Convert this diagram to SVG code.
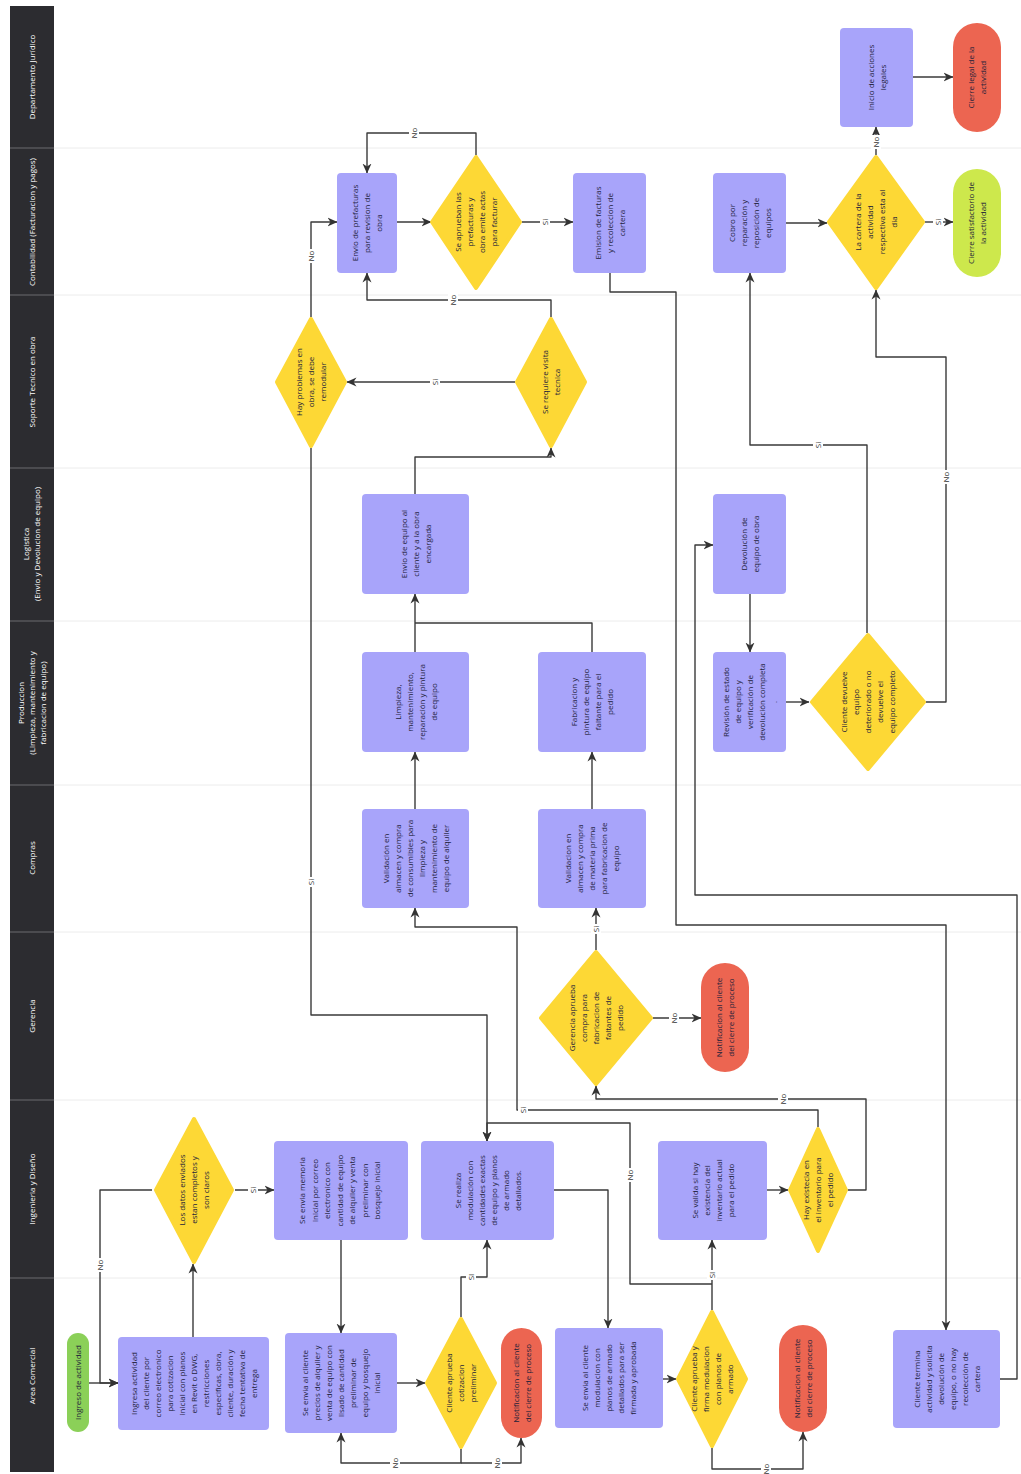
<svg xmlns="http://www.w3.org/2000/svg" width="1021" height="1474" viewBox="0 0 1021 1474">
<style>
.sep{stroke:#ececec;stroke-width:1}
.lsep{stroke:#6a6a6e;stroke-width:1}
.box{fill:#a8a4fa}
.dia{fill:#fdd835;stroke:#fdd835;stroke-width:4;stroke-linejoin:round}
.red{fill:#ec6551}
.grn{fill:#8bd058}
.lime{fill:#cde84c}
text{font-family:"Open Sans","Noto Sans",sans-serif;font-size:8px;text-anchor:middle}
.t{fill:#22223a}
.lt{fill:#ffffff}
.c{fill:none;stroke:#3a3a3a;stroke-width:1.4;stroke-linejoin:round}
.a{marker-end:url(#ah)}
.lb rect{fill:#ffffff}
.lb text{fill:#333}
</style>
<defs>
<marker id="ah" viewBox="0 0 10 10" refX="9.5" refY="5" markerWidth="10" markerHeight="10" markerUnits="userSpaceOnUse" orient="auto"><path d="M0,0.5 L10,5 L0,9.5 L3,5 z" fill="#333"/></marker>
</defs>
<rect x="0" y="0" width="1021" height="1474" fill="#ffffff"/>
<g id="lanes">
<rect x="10" y="6" width="44" height="1466" fill="#2c2c30"/>
<line class="sep" x1="54" y1="148" x2="1021" y2="148"/>
<line class="sep" x1="54" y1="295" x2="1021" y2="295"/>
<line class="sep" x1="54" y1="468" x2="1021" y2="468"/>
<line class="sep" x1="54" y1="621" x2="1021" y2="621"/>
<line class="sep" x1="54" y1="785" x2="1021" y2="785"/>
<line class="sep" x1="54" y1="932" x2="1021" y2="932"/>
<line class="sep" x1="54" y1="1100" x2="1021" y2="1100"/>
<line class="sep" x1="54" y1="1278" x2="1021" y2="1278"/>
<line class="lsep" x1="10" y1="148" x2="54" y2="148"/>
<line class="lsep" x1="10" y1="295" x2="54" y2="295"/>
<line class="lsep" x1="10" y1="468" x2="54" y2="468"/>
<line class="lsep" x1="10" y1="621" x2="54" y2="621"/>
<line class="lsep" x1="10" y1="785" x2="54" y2="785"/>
<line class="lsep" x1="10" y1="932" x2="54" y2="932"/>
<line class="lsep" x1="10" y1="1100" x2="54" y2="1100"/>
<line class="lsep" x1="10" y1="1278" x2="54" y2="1278"/>
<text class="lt" transform="translate(32,77) rotate(-90)" y="3">Departamento Jurídico</text>
<text class="lt" transform="translate(32,222) rotate(-90)" y="3">Contabilidad (Facturacion y pagos)</text>
<text class="lt" transform="translate(32,382) rotate(-90)" y="3">Soporte Tecnico en obra</text>
<text class="lt" transform="translate(32,544) rotate(-90)"><tspan x="0" y="-3">Logistica</tspan><tspan x="0" y="8">(Envio y Devolucion de equipo)</tspan></text>
<text class="lt" transform="translate(32,703) rotate(-90)"><tspan x="0" y="-8">Produccion</tspan><tspan x="0" y="3">(Limpieza, mantenimiento y</tspan><tspan x="0" y="14">fabricacion de equipo)</tspan></text>
<text class="lt" transform="translate(32,858) rotate(-90)" y="3">Compras</text>
<text class="lt" transform="translate(32,1016) rotate(-90)" y="3">Gerencia</text>
<text class="lt" transform="translate(32,1189) rotate(-90)" y="3">Ingenieria y Diseño</text>
<text class="lt" transform="translate(32,1376) rotate(-90)" y="3">Area Comercial</text>
</g>
<g id="connectors">
<path class="c a" d="M89,1383 H118"/>
<path class="c a" d="M152,1190 H100 V1383 H118"/>
<path class="c a" d="M193,1337 V1264"/>
<path class="c a" d="M235,1190 H274"/>
<path class="c a" d="M341,1240 V1333"/>
<path class="c a" d="M397,1383 H425"/>
<path class="c a" d="M461,1449 V1463 H341 V1433"/>
<path class="c a" d="M461,1463 H521 V1438"/>
<path class="c a" d="M461,1317 V1277 H487 V1240"/>
<path class="c a" d="M554,1190 H608 V1328"/>
<path class="c a" d="M663,1379 H676"/>
<path class="c a" d="M712,1448 V1469 H803 V1432"/>
<path class="c a" d="M712,1310 V1240"/>
<path class="c a" d="M712,1284 H630 V1123 H487 V1141"/>
<path class="c a" d="M767,1190 H788"/>
<path class="c a" d="M818,1127 V1110 H517 V927 H415 V908"/>
<path class="c a" d="M848,1190 H866 V1099 H596 V1086"/>
<path class="c a" d="M596,950 V908"/>
<path class="c a" d="M653,1018 H701"/>
<path class="c a" d="M311,448 V1015 H487 V1141"/>
<path class="c a" d="M415,809 V752"/>
<path class="c a" d="M592,809 V752"/>
<path class="c a" d="M415,652 V594"/>
<path class="c" d="M592,652 V623 H415"/>
<path class="c a" d="M415,494 V457 H551 V448"/>
<path class="c a" d="M515,382 H347"/>
<path class="c a" d="M551,317 V300 H367 V273"/>
<path class="c a" d="M311,317 V222 H337"/>
<path class="c a" d="M397,222 H431"/>
<path class="c a" d="M476,155 V133 H367 V173"/>
<path class="c a" d="M522,222 H573"/>
<path class="c a" d="M610,273 V292 H676 V925 H946 V1330"/>
<path class="c a" d="M1000,1379 H1017 V895 H695 V545 H713"/>
<path class="c a" d="M750,594 V652"/>
<path class="c a" d="M786,702 H809"/>
<path class="c a" d="M867,633 V445 H750 V273"/>
<path class="c a" d="M926,702 H946 V357 H876 V290"/>
<path class="c a" d="M786,223 H827"/>
<path class="c a" d="M925,222 H953"/>
<path class="c a" d="M876,155 V127"/>
<path class="c a" d="M913,77 H953"/>
<g class="lb">
<g transform="translate(100,1265) rotate(-90)"><rect x="-7" y="-5" width="14" height="10"/><text y="3">No</text></g>
<g transform="translate(253,1190) rotate(-90)"><rect x="-5" y="-5" width="10" height="10"/><text y="3">Si</text></g>
<g transform="translate(395,1463) rotate(-90)"><rect x="-7" y="-5" width="14" height="10"/><text y="3">No</text></g>
<g transform="translate(497,1463) rotate(-90)"><rect x="-7" y="-5" width="14" height="10"/><text y="3">No</text></g>
<g transform="translate(471,1277) rotate(-90)"><rect x="-5" y="-5" width="10" height="10"/><text y="3">SI</text></g>
<g transform="translate(766,1469) rotate(-90)"><rect x="-7" y="-5" width="14" height="10"/><text y="3">No</text></g>
<g transform="translate(712,1275) rotate(-90)"><rect x="-5" y="-5" width="10" height="10"/><text y="3">SI</text></g>
<g transform="translate(630,1175) rotate(-90)"><rect x="-7" y="-5" width="14" height="10"/><text y="3">No</text></g>
<g transform="translate(523,1110) rotate(-90)"><rect x="-5" y="-5" width="10" height="10"/><text y="3">Si</text></g>
<g transform="translate(783,1099) rotate(-90)"><rect x="-7" y="-5" width="14" height="10"/><text y="3">No</text></g>
<g transform="translate(596,929) rotate(-90)"><rect x="-5" y="-5" width="10" height="10"/><text y="3">Si</text></g>
<g transform="translate(674,1018) rotate(-90)"><rect x="-7" y="-5" width="14" height="10"/><text y="3">No</text></g>
<g transform="translate(311,882) rotate(-90)"><rect x="-5" y="-5" width="10" height="10"/><text y="3">Si</text></g>
<g transform="translate(435,382) rotate(-90)"><rect x="-5" y="-5" width="10" height="10"/><text y="3">Si</text></g>
<g transform="translate(453,300) rotate(-90)"><rect x="-7" y="-5" width="14" height="10"/><text y="3">No</text></g>
<g transform="translate(311,256) rotate(-90)"><rect x="-7" y="-5" width="14" height="10"/><text y="3">No</text></g>
<g transform="translate(414,133) rotate(-90)"><rect x="-7" y="-5" width="14" height="10"/><text y="3">No</text></g>
<g transform="translate(545,222) rotate(-90)"><rect x="-5" y="-5" width="10" height="10"/><text y="3">Si</text></g>
<g transform="translate(818,445) rotate(-90)"><rect x="-5" y="-5" width="10" height="10"/><text y="3">Si</text></g>
<g transform="translate(946,477) rotate(-90)"><rect x="-7" y="-5" width="14" height="10"/><text y="3">No</text></g>
<g transform="translate(938,222) rotate(-90)"><rect x="-5" y="-5" width="10" height="10"/><text y="3">Si</text></g>
<g transform="translate(876,142) rotate(-90)"><rect x="-7" y="-5" width="14" height="10"/><text y="3">No</text></g>
</g>
</g>
<g id="n-start"><rect class="grn" x="67" y="1333" width="22" height="99" rx="11"/><text class="t" transform="translate(78,1382.5) rotate(-90)" y="3">Ingreso de actividad</text></g>
<g id="n-ingresa"><rect class="box" x="118" y="1337" width="151" height="93" rx="4"/><text class="t" transform="translate(193.5,1383.5) rotate(-90)"><tspan x="0" y="-57">Ingresa actividad</tspan><tspan x="0" y="-45">del cliente por</tspan><tspan x="0" y="-33">correo electronico</tspan><tspan x="0" y="-21">para cotizacion</tspan><tspan x="0" y="-9">inicial con planos</tspan><tspan x="0" y="3">en Revit o DWG,</tspan><tspan x="0" y="15">restricciones</tspan><tspan x="0" y="27">especificas, obra,</tspan><tspan x="0" y="39">cliente, duración y</tspan><tspan x="0" y="51">fecha tentativa de</tspan><tspan x="0" y="63">entrega</tspan></text></g>
<g id="n-datos"><polygon class="dia" points="194,1119 232,1190 194,1262 156,1190"/><text class="t" transform="translate(194,1190) rotate(-90)"><tspan x="0" y="-9">Los datos enviados</tspan><tspan x="0" y="3">estan completos y</tspan><tspan x="0" y="15">son claros</tspan></text></g>
<g id="n-memoria"><rect class="box" x="274" y="1141" width="134" height="99" rx="4"/><text class="t" transform="translate(341,1190.5) rotate(-90)"><tspan x="0" y="-36">Se envia memoria</tspan><tspan x="0" y="-23.5">inicial por correo</tspan><tspan x="0" y="-11">electronico con</tspan><tspan x="0" y="1.5">cantidad de equipo</tspan><tspan x="0" y="14">de alquiler y venta</tspan><tspan x="0" y="26.5">preliminar con</tspan><tspan x="0" y="39">bosquejo inicial</tspan></text></g>
<g id="n-precios"><rect class="box" x="285" y="1333" width="112" height="100" rx="4"/><text class="t" transform="translate(341,1383) rotate(-90)"><tspan x="0" y="-33">Se envia al cliente</tspan><tspan x="0" y="-21">precios de alquiler y</tspan><tspan x="0" y="-9">venta de equipo con</tspan><tspan x="0" y="3">lisado de cantidad</tspan><tspan x="0" y="15">preliminar de</tspan><tspan x="0" y="27">equipo y bosquejo</tspan><tspan x="0" y="39">inicial</tspan></text></g>
<g id="n-aprueba1"><polygon class="dia" points="461,1319 495,1383 461,1447 427,1383"/><text class="t" transform="translate(461,1383) rotate(-90)"><tspan x="0" y="-9">Cliente aprueba</tspan><tspan x="0" y="3">cotizacion</tspan><tspan x="0" y="15">preliminar</tspan></text></g>
<g id="n-red1"><rect class="red" x="501" y="1328" width="41" height="110" rx="20.5"/><text class="t" transform="translate(521.5,1383) rotate(-90)"><tspan x="0" y="-3">Notificacion al cliente</tspan><tspan x="0" y="9">del cierre de proceso</tspan></text></g>
<g id="n-modulacion"><rect class="box" x="421" y="1141" width="133" height="99" rx="4"/><text class="t" transform="translate(487.5,1190.5) rotate(-90)"><tspan x="0" y="-27">Se realiza</tspan><tspan x="0" y="-15">modulación con</tspan><tspan x="0" y="-3">cantidades exactas</tspan><tspan x="0" y="9">de equipo y planos</tspan><tspan x="0" y="21">de armado</tspan><tspan x="0" y="33">detallados.</tspan></text></g>
<g id="n-planos"><rect class="box" x="555" y="1328" width="108" height="100" rx="4"/><text class="t" transform="translate(609,1378) rotate(-90)"><tspan x="0" y="-21">Se envia al cliente</tspan><tspan x="0" y="-9">modulacion con</tspan><tspan x="0" y="3">planos de armado</tspan><tspan x="0" y="15">detallados para ser</tspan><tspan x="0" y="27">firmada y aprobada</tspan></text></g>
<g id="n-firma"><polygon class="dia" points="712,1312 746,1379 712,1446 678,1379"/><text class="t" transform="translate(712,1379) rotate(-90)"><tspan x="0" y="-15">Cliente aprueba y</tspan><tspan x="0" y="-3">firma modulacion</tspan><tspan x="0" y="9">con planos de</tspan><tspan x="0" y="21">armado</tspan></text></g>
<g id="n-red2"><rect class="red" x="779" y="1325" width="48" height="107" rx="24"/><text class="t" transform="translate(803,1378.5) rotate(-90)"><tspan x="0" y="-3">Notificacion al cliente</tspan><tspan x="0" y="9">del cierre de proceso</tspan></text></g>
<g id="n-valida"><rect class="box" x="658" y="1141" width="109" height="99" rx="4"/><text class="t" transform="translate(712.5,1190.5) rotate(-90)"><tspan x="0" y="-15">Se valida si hay</tspan><tspan x="0" y="-3">existencia del</tspan><tspan x="0" y="9">inventario actual</tspan><tspan x="0" y="21">para el pedido</tspan></text></g>
<g id="n-existe"><polygon class="dia" points="818,1129 846,1190 818,1251 790,1190"/><text class="t" transform="translate(818,1190) rotate(-90)"><tspan x="0" y="-9">Hay existecia en</tspan><tspan x="0" y="3">el inventario para</tspan><tspan x="0" y="15">el pedido</tspan></text></g>
<g id="n-gerencia"><polygon class="dia" points="596,952 651,1018 596,1084 541,1018"/><text class="t" transform="translate(596,1018) rotate(-90)"><tspan x="0" y="-21">Gerencia aprueba</tspan><tspan x="0" y="-9">compra para</tspan><tspan x="0" y="3">fabricacion de</tspan><tspan x="0" y="15">faltantes de</tspan><tspan x="0" y="27">pedido</tspan></text></g>
<g id="n-red3"><rect class="red" x="701" y="963" width="48" height="109" rx="24"/><text class="t" transform="translate(725,1017.5) rotate(-90)"><tspan x="0" y="-3">Notificacion al cliente</tspan><tspan x="0" y="9">del cierre de proceso</tspan></text></g>
<g id="n-consumibles"><rect class="box" x="362" y="809" width="107" height="99" rx="4"/><text class="t" transform="translate(415.5,858.5) rotate(-90)"><tspan x="0" y="-27">Validación en</tspan><tspan x="0" y="-15">almacen y compra</tspan><tspan x="0" y="-3">de consumibles para</tspan><tspan x="0" y="9">limpieza y</tspan><tspan x="0" y="21">mantenimiento de</tspan><tspan x="0" y="33">equipo de alquiler</tspan></text></g>
<g id="n-materia"><rect class="box" x="538" y="809" width="108" height="99" rx="4"/><text class="t" transform="translate(592,858.5) rotate(-90)"><tspan x="0" y="-21">Validacion en</tspan><tspan x="0" y="-9">almacen y compra</tspan><tspan x="0" y="3">de materia prima</tspan><tspan x="0" y="15">para fabricacion de</tspan><tspan x="0" y="27">equipo</tspan></text></g>
<g id="n-limpieza"><rect class="box" x="362" y="652" width="107" height="100" rx="4"/><text class="t" transform="translate(415.5,702) rotate(-90)"><tspan x="0" y="-15">Limpieza,</tspan><tspan x="0" y="-3">mantenimiento,</tspan><tspan x="0" y="9">reparación y pintura</tspan><tspan x="0" y="21">de equipo</tspan></text></g>
<g id="n-fabricacion"><rect class="box" x="538" y="652" width="108" height="100" rx="4"/><text class="t" transform="translate(592,702) rotate(-90)"><tspan x="0" y="-15">Fabricacion y</tspan><tspan x="0" y="-3">pintura de equipo</tspan><tspan x="0" y="9">faltante para el</tspan><tspan x="0" y="21">pedido</tspan></text></g>
<g id="n-envio"><rect class="box" x="362" y="494" width="107" height="100" rx="4"/><text class="t" transform="translate(415.5,544) rotate(-90)"><tspan x="0" y="-9">Envio de equipo al</tspan><tspan x="0" y="3">cliente y a la obra</tspan><tspan x="0" y="15">encargada</tspan></text></g>
<g id="n-devolucion"><rect class="box" x="713" y="494" width="73" height="100" rx="4"/><text class="t" transform="translate(749.5,544) rotate(-90)"><tspan x="0" y="-3">Devolución de</tspan><tspan x="0" y="9">equipo de obra</tspan></text></g>
<g id="n-revision"><rect class="box" x="713" y="652" width="73" height="100" rx="4"/><text class="t" transform="translate(749.5,702) rotate(-90)"><tspan x="0" y="-21">Revisión de estado</tspan><tspan x="0" y="-9">de equipo y</tspan><tspan x="0" y="3">verificación de</tspan><tspan x="0" y="15">devolución completa</tspan><tspan x="0" y="27">.</tspan></text></g>
<g id="n-devuelve"><polygon class="dia" points="868,635 924,702 868,769 812,702"/><text class="t" transform="translate(868,702) rotate(-90)"><tspan x="0" y="-21">Cliente devuelve</tspan><tspan x="0" y="-9">equipo</tspan><tspan x="0" y="3">deteriorado o no</tspan><tspan x="0" y="15">devuelve el</tspan><tspan x="0" y="27">equipo completo</tspan></text></g>
<g id="n-problemas"><polygon class="dia" points="311,319 345,382 311,446 277,382"/><text class="t" transform="translate(311,382) rotate(-90)"><tspan x="0" y="-9">Hay problemas en</tspan><tspan x="0" y="3">obra, se debe</tspan><tspan x="0" y="15">remodular</tspan></text></g>
<g id="n-visita"><polygon class="dia" points="551,319 585,382 551,446 517,382"/><text class="t" transform="translate(551,382) rotate(-90)"><tspan x="0" y="-3">Se requiere visita</tspan><tspan x="0" y="9">tecnica</tspan></text></g>
<g id="n-prefacturas"><rect class="box" x="337" y="173" width="60" height="100" rx="4"/><text class="t" transform="translate(367,223) rotate(-90)"><tspan x="0" y="-9">Envio de prefacturas</tspan><tspan x="0" y="3">para revision de</tspan><tspan x="0" y="15">obra</tspan></text></g>
<g id="n-aprueban"><polygon class="dia" points="476,157 520,222 476,288 432,222"/><text class="t" transform="translate(476,222) rotate(-90)"><tspan x="0" y="-15">Se aprueban las</tspan><tspan x="0" y="-3">prefacturas y</tspan><tspan x="0" y="9">obra emite actas</tspan><tspan x="0" y="21">para facturar</tspan></text></g>
<g id="n-emision"><rect class="box" x="573" y="173" width="73" height="100" rx="4"/><text class="t" transform="translate(609.5,223) rotate(-90)"><tspan x="0" y="-9">Emision de facturas</tspan><tspan x="0" y="3">y recoleccion de</tspan><tspan x="0" y="15">cartera</tspan></text></g>
<g id="n-cobro"><rect class="box" x="713" y="173" width="73" height="100" rx="4"/><text class="t" transform="translate(749.5,223) rotate(-90)"><tspan x="0" y="-15">Cobro por</tspan><tspan x="0" y="-3">reparación y</tspan><tspan x="0" y="9">reposición de</tspan><tspan x="0" y="21">equipos</tspan></text></g>
<g id="n-cartera"><polygon class="dia" points="876,157 923,222 876,288 829,222"/><text class="t" transform="translate(876,222) rotate(-90)"><tspan x="0" y="-15">La cartera de la</tspan><tspan x="0" y="-3">actividad</tspan><tspan x="0" y="9">respectiva esta al</tspan><tspan x="0" y="21">dia</tspan></text></g>
<g id="n-satisfactorio"><rect class="lime" x="953" y="169" width="48" height="108" rx="24"/><text class="t" transform="translate(977,223) rotate(-90)"><tspan x="0" y="-3">Cierre satisfactorio de</tspan><tspan x="0" y="9">la actividad</tspan></text></g>
<g id="n-legales"><rect class="box" x="840" y="28" width="73" height="99" rx="4"/><text class="t" transform="translate(876.5,77.5) rotate(-90)"><tspan x="0" y="-3">Inicio de acciones</tspan><tspan x="0" y="9">legales</tspan></text></g>
<g id="n-cierrelegal"><rect class="red" x="953" y="23" width="48" height="109" rx="24"/><text class="t" transform="translate(977,77.5) rotate(-90)"><tspan x="0" y="-3">Cierre legal de la</tspan><tspan x="0" y="9">actividad</tspan></text></g>
<g id="n-termina"><rect class="box" x="893" y="1330" width="107" height="98" rx="4"/><text class="t" transform="translate(946.5,1379) rotate(-90)"><tspan x="0" y="-27">Cliente termina</tspan><tspan x="0" y="-15">actividad y solicita</tspan><tspan x="0" y="-3">devolución de</tspan><tspan x="0" y="9">equipo, o no hay</tspan><tspan x="0" y="21">recolección de</tspan><tspan x="0" y="33">cartera</tspan></text></g>
</svg>
